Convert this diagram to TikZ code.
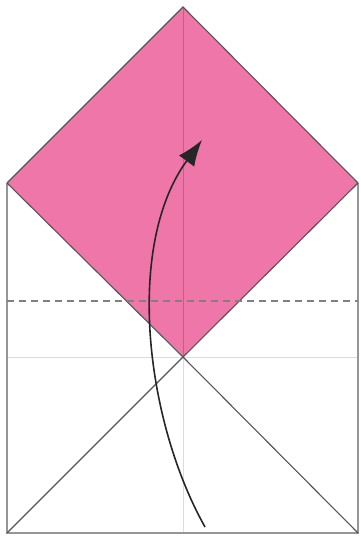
\documentclass[tikz,border=0pt]{standalone}
\usetikzlibrary{arrows.meta}
\definecolor{flap}{RGB}{238,118,168}
\definecolor{flapcrease}{RGB}{222,80,140}
\definecolor{edge}{RGB}{85,85,85}
\definecolor{side}{RGB}{150,150,150}
\definecolor{crease}{RGB}{220,220,220}
\tikzset{
  paperedge/.style={draw=side, line width=1.4pt},
  flapedge/.style={draw=edge, line width=1.1pt},
  creaseline/.style={draw=crease, line width=1pt},
  valley/.style={draw=gray, dashed, dash pattern=on 7pt off 5pt, line width=1.1pt},
  foldarrow/.style={draw=black!85, line width=1.6pt, -{Latex[length=26pt,width=19pt]}}
}
\begin{document}
\begin{tikzpicture}[x=1pt,y=-1pt]
\useasboundingbox (0,0) rectangle (360,537);
% key points
\coordinate (TL) at (7,183);
\coordinate (TR) at (358,183);
\coordinate (BL) at (7,533);
\coordinate (BR) at (358,533);
\coordinate (top) at (183,7);
\coordinate (ctr) at (183,357);
\coordinate (ML) at (7,357);
\coordinate (MR) at (358,357);
\coordinate (CB) at (183,533);
\coordinate (DL) at (7,301);
\coordinate (DR) at (358,301);
\coordinate (A0) at (205,527);
\coordinate (A1) at (202,140);
% creases in white part
\draw[creaseline] (ML) -- (MR);
\draw[creaseline] (ctr) -- (CB);
% pink flap
\fill[flap] (top) -- (TR) -- (ctr) -- (TL) -- cycle;
\draw[flapcrease, line width=1pt] (top) -- (ctr);
% paper sides
\draw[paperedge] (TL) -- (BL) -- (BR) -- (TR);
% flap edges
\draw[flapedge] (TL) -- (top) -- (TR);
\draw[flapedge] (TL) -- (ctr) -- (TR);
\draw[flapedge] (BL) -- (ctr) -- (BR);
% valley fold line
\draw[valley] (DL) -- (DR);
% arrow
\draw[foldarrow] (A0) .. controls (145,420) and (125,245) .. (A1);
\end{tikzpicture}
\end{document}
